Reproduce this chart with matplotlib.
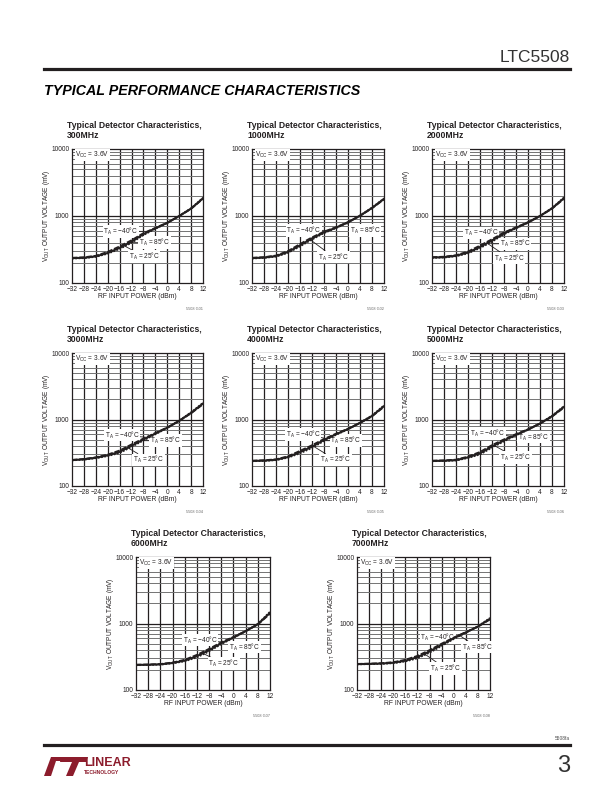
import matplotlib
matplotlib.use('Agg')
import matplotlib.pyplot as plt
from matplotlib.patches import Polygon
from matplotlib.lines import Line2D

SANS = ['Liberation Sans Narrow', 'Liberation Sans', 'DejaVu Sans']
plt.rcParams['font.family'] = SANS
plt.rcParams['mathtext.fontset'] = 'custom'
plt.rcParams['mathtext.rm'] = 'Liberation Sans'

# ---------------- data ----------------
rf_dbm = [-32, -28, -24, -20, -16, -12, -8, -4, 0, 4, 8, 12]
x_ticks = [-32, -28, -24, -20, -16, -12, -8, -4, 0, 4, 8, 12]
y_ticks = [100, 1000, 10000]
temps = ['\u221240', '25', '85']

freqs = ['300MHz', '1000MHz', '2000MHz', '3000MHz',
         '4000MHz', '5000MHz', '6000MHz', '7000MHz']
fig_codes = ['5508 G01', '5508 G02', '5508 G03', '5508 G04',
             '5508 G05', '5508 G06', '5508 G07', '5508 G08']

# rows: TA = -40C, 25C, 85C  (mV)
mv_300 = [[238, 242, 255, 292, 352, 435, 555, 665, 795, 995, 1280, 1810],
          [235, 238, 250, 281, 335, 414, 537, 655, 790, 1000, 1290, 1840],
          [232, 235, 246, 274, 322, 398, 520, 645, 785, 1005, 1305, 1870]]
mv_1000 = [[238, 243, 257, 300, 382, 480, 585, 680, 810, 1005, 1305, 1770],
           [235, 240, 252, 290, 365, 462, 570, 670, 805, 1010, 1320, 1800],
           [232, 237, 248, 282, 352, 446, 556, 660, 800, 1015, 1335, 1830]]
mv_2000 = [[243, 247, 260, 295, 362, 450, 568, 678, 808, 998, 1285, 1810],
           [240, 243, 255, 285, 345, 430, 550, 665, 800, 1000, 1300, 1850],
           [237, 240, 251, 277, 332, 414, 534, 654, 795, 1004, 1315, 1890]]
mv_3000 = [[247, 255, 270, 297, 342, 422, 518, 628, 760, 950, 1240, 1690],
           [245, 252, 266, 289, 326, 403, 500, 614, 752, 955, 1260, 1740],
           [243, 249, 262, 282, 314, 388, 484, 600, 745, 962, 1280, 1780]]
mv_4000 = [[240, 244, 252, 280, 338, 410, 510, 612, 726, 888, 1115, 1550],
           [238, 241, 248, 273, 323, 390, 492, 600, 718, 890, 1130, 1590],
           [236, 238, 245, 267, 310, 374, 476, 588, 712, 895, 1145, 1630]]
mv_5000 = [[240, 243, 249, 277, 325, 412, 503, 603, 712, 868, 1105, 1510],
           [238, 240, 245, 270, 310, 393, 485, 590, 705, 870, 1120, 1550],
           [236, 238, 242, 264, 298, 378, 470, 578, 700, 874, 1135, 1590]]
mv_6000 = [[240, 242, 246, 259, 285, 338, 416, 522, 628, 770, 965, 1400],
           [238, 240, 243, 255, 277, 323, 397, 505, 617, 767, 975, 1450],
           [236, 238, 241, 252, 270, 310, 380, 490, 607, 765, 988, 1500]]
mv_7000 = [[247, 249, 253, 262, 285, 326, 398, 498, 615, 742, 895, 1150],
           [245, 247, 250, 257, 276, 312, 380, 478, 600, 735, 900, 1180],
           [243, 245, 247, 253, 269, 300, 364, 460, 586, 728, 905, 1210]]
all_mv = [mv_300, mv_1000, mv_2000, mv_3000, mv_4000, mv_5000, mv_6000, mv_7000]

# label placement per chart: (text x, text y, leader end x, leader end y) for -40, 25, 85
label_pos = [
    [(-21.5, 590, -7.2, 590), (-13.0, 250, -14.5, 360), (-9.5, 400, -12.3, 400)],
    [(-20.5, 610, -7.0, 610), (-10.0, 245, -12.5, 440), (0.5, 610, -0.5, 770)],
    [(-21.5, 560, -8.0, 560), (-11.5, 235, -13.5, 390), (-9.5, 385, -12.3, 385)],
    [(-21.0, 580, -7.0, 540), (-11.5, 247, -13.0, 370), (-5.8, 480, -8.3, 480)],
    [(-20.8, 600, -7.5, 520), (-9.3, 247, -11.5, 395), (-5.9, 480, -8.2, 480)],
    [(-19.3, 620, -5.5, 560), (-9.3, 270, -11.0, 400), (-3.3, 545, -5.3, 545)],
    [(-16.6, 560, -3.3, 525), (-8.3, 250, -10.0, 355), (-1.5, 440, -2.5, 560)],
    [(-11.1, 620, 1.0, 640), (-7.8, 210, -9.5, 345), (2.7, 440, 1.5, 680)],
]

# ---------------- layout (pixels on a 612x792 page) ----------------
W, H = 612, 792
rows_px = [(149, 283), (149, 283), (149, 283), (353, 486), (353, 486), (353, 486),
           (557, 690), (557, 690)]
cols_px = [(72, 203), (252, 384), (432, 564), (72, 203), (252, 384), (432, 564),
           (136, 270), (357, 490)]

fig = plt.figure(figsize=(W / 100, H / 100), dpi=100)


def fx(x):
    return x / W


def fy(y):
    return 1 - y / H


ink = '#231f20'
for i, freq in enumerate(freqs):
    (t, b), (l, r) = rows_px[i], cols_px[i]
    ax = fig.add_axes([fx(l), fy(b), (r - l) / W, (b - t) / H])
    ax.set_xlim(-32, 12)
    ax.set_yscale('log')
    ax.set_ylim(100, 10000)

    # grid
    for xv in x_ticks[1:-1]:
        ax.axvline(xv, color=ink, lw=0.9, zorder=1)
    for dec in (100, 1000):
        for k in range(2, 10):
            ax.axhline(dec * k, color='0.45', lw=0.7, zorder=1)
    ax.axhline(1000, color=ink, lw=0.9, zorder=1)
    for sp in ax.spines.values():
        sp.set_linewidth(0.9)
        sp.set_color(ink)

    ax.set_xticks(x_ticks)
    ax.set_xticklabels([str(v).replace('-', '\u2212') for v in x_ticks])
    ax.set_yticks(y_ticks)
    ax.set_yticklabels([str(v) for v in y_ticks])
    ax.yaxis.set_minor_locator(matplotlib.ticker.NullLocator())
    ax.tick_params(length=0, labelsize=4.7, pad=2, colors=ink)

    mv = all_mv[i]
    ax.plot(rf_dbm, mv[0], color=ink, lw=1.3, ls=(0, (3, 1)), zorder=6)
    ax.plot(rf_dbm, mv[1], color=ink, lw=1.5, zorder=6)
    ax.plot(rf_dbm, mv[2], color=ink, lw=1.3, ls=(0, (1, 0.8)), zorder=6)

    for j, tmp in enumerate(temps):
        tx, ty, ex, ey = label_pos[i][j]
        ax.annotate(r'$\mathregular{T_A}$ = ' + tmp + '\u00b0C', xy=(ex, ey), xytext=(tx, ty),
                    ha='left', va='center', fontsize=4.7, color=ink, zorder=4,
                    bbox=dict(boxstyle='square,pad=0.1', fc='white', ec='none'),
                    arrowprops=dict(arrowstyle='-', lw=0.6, color=ink, shrinkA=0, shrinkB=0))

    ax.text(0.025, 0.955, r'$\mathregular{V_{CC}}$ = 3.6V', transform=ax.transAxes,
            ha='left', va='center', fontsize=4.7, color=ink, zorder=5,
            bbox=dict(boxstyle='square,pad=0.1', fc='white', ec='none'))

    ax.set_xlabel('RF INPUT POWER (dBm)', fontsize=4.9, color=ink)
    ax.xaxis.set_label_coords(0.5, -0.075)
    ax.set_ylabel(r'$\mathregular{V_{OUT}}$ OUTPUT VOLTAGE (mV)', fontsize=4.7, color=ink)
    ax.yaxis.set_label_coords(-20 / (r - l), 0.5)

    fig.text(fx(l - 5), fy(t - 28), 'Typical Detector Characteristics,\n' + freq,
             ha='left', va='top', fontsize=6.2, fontweight='bold', color=ink, linespacing=1.2)
    fig.text(fx(r), fy(b + 26), fig_codes[i], ha='right', va='center',
             fontsize=2.8, color='0.4')

# ---------------- page furniture ----------------
fig.text(fx(570), fy(57), 'LTC5508', ha='right', va='center', fontsize=12.5,
         family=['Liberation Sans', 'DejaVu Sans'], color='#333333')
fig.add_artist(Line2D([fx(44), fx(570)], [fy(69), fy(69)], lw=2.3, color=ink))
fig.text(fx(44), fy(91), 'TYPICAL PERFORMANCE CHARACTERISTICS', ha='left', va='center',
         fontsize=10.3, fontweight='bold', style='italic', color='black')

fig.add_artist(Line2D([fx(44), fx(570)], [fy(745), fy(745)], lw=2.3, color=ink))
fig.text(fx(570), fy(738), '5508fa', ha='right', va='center', fontsize=3.5, color='0.3')
fig.text(fx(570), fy(766), '3', ha='right', va='center', fontsize=17,
         family=['Liberation Sans', 'DejaVu Sans'], color='#333333')

red = '#8c1c2c'
mark1 = [(44, 776), (51, 757), (65, 757), (63, 761), (56, 761), (51, 776)]
mark2 = [(61, 757), (88, 757), (86, 762), (79, 762), (73, 776), (66, 776), (72, 762), (60, 762)]
for pts in (mark1, mark2):
    fig.add_artist(Polygon([(fx(a), fy(b)) for a, b in pts], closed=True,
                           transform=fig.transFigure, fc=red, ec='none'))
fig.text(fx(84), fy(763), 'LINEAR', ha='left', va='center', fontsize=9,
         fontweight='bold', color=red)
fig.text(fx(84), fy(772.5), 'TECHNOLOGY', ha='left', va='center', fontsize=3.6,
         fontweight='bold', color=red)

fig.savefig('out.png', dpi=100)
